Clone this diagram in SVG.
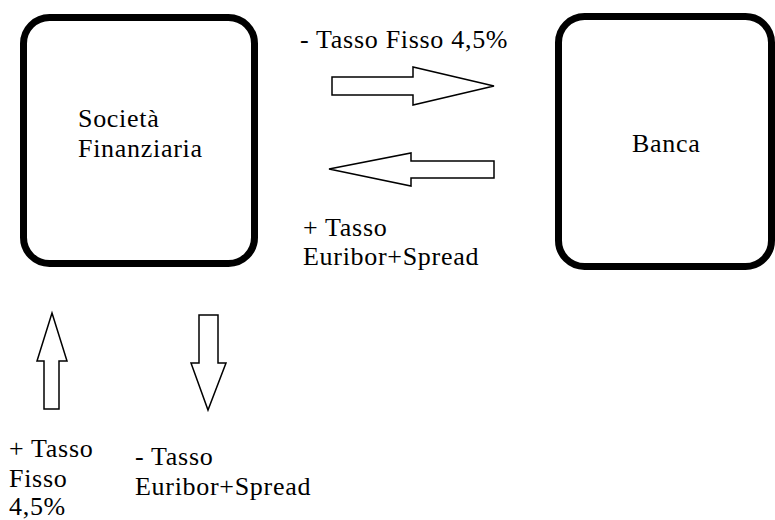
<svg xmlns="http://www.w3.org/2000/svg" width="775" height="520" viewBox="0 0 775 520">
<style>
.box{fill:#fff;stroke:#000;stroke-width:7}
.arr{fill:#fff;stroke:#000;stroke-width:1.5;stroke-linejoin:miter}
text{font-family:"Liberation Serif","Times New Roman",serif;font-size:26px;letter-spacing:0.7px;fill:#000}
</style>
<rect width="775" height="520" fill="#fff"/>
<g id="societa">
<rect class="box" x="23.5" y="17.5" width="231" height="246" rx="26"/>
<text x="78" y="127">Società</text>
<text x="78" y="157">Finanziaria</text>
</g>
<g id="banca">
<rect class="box" x="558.5" y="16.5" width="213" height="250" rx="26"/>
<text x="632" y="152">Banca</text>
</g>
<g id="connectors">
<polygon class="arr" points="332,77 413,77 413,67 494,86 413,105 413,95 332,95"/>
<polygon class="arr" points="494,161 411,161 411,153 329,169 411,186 411,178 494,178"/>
<polygon class="arr" points="52,313 67,361 59,361 59,409 44,409 44,361 37,361"/>
<polygon class="arr" points="199,315 218,315 218,363 226,363 208,410 191,363 199,363"/>
</g>
<g id="labels">
<text x="300" y="48">- Tasso Fisso 4,5%</text>
<text x="303" y="236">+ Tasso</text>
<text x="303" y="265">Euribor+Spread</text>
<text x="9" y="457">+ Tasso</text>
<text x="9" y="487">Fisso</text>
<text x="9" y="515">4,5%</text>
<text x="135" y="465">- Tasso</text>
<text x="135" y="495">Euribor+Spread</text>
</g>
</svg>
